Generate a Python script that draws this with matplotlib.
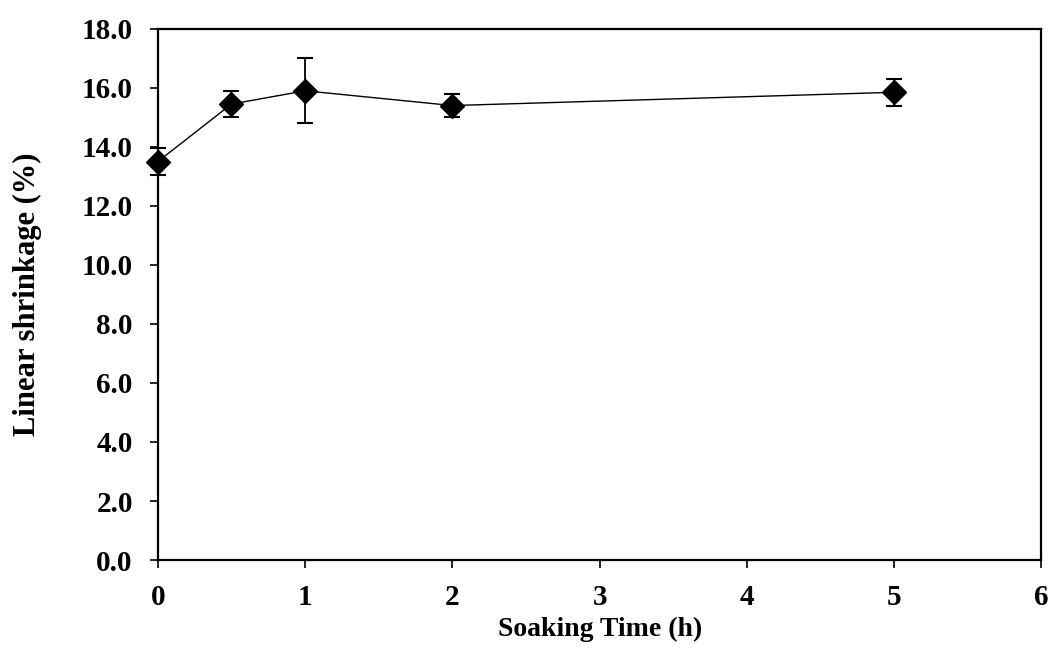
import matplotlib
matplotlib.use("Agg")
import matplotlib.pyplot as plt
from matplotlib.ticker import FormatStrFormatter

soaking_time = [0, 0.5, 1, 2, 5]
shrinkage = [13.5, 15.45, 15.9, 15.4, 15.85]
errors = [0.45, 0.45, 1.1, 0.4, 0.45]
x_ticks = [0, 1, 2, 3, 4, 5, 6]
y_ticks = [0, 2, 4, 6, 8, 10, 12, 14, 16, 18]

plt.rcParams['font.family'] = ['Liberation Serif', 'DejaVu Serif']
plt.rcParams['font.weight'] = 'bold'

fig = plt.figure(figsize=(10.52, 6.55), dpi=100)
ax = fig.add_axes([0.150, 0.145, 0.840, 0.811])

ax.errorbar(soaking_time, shrinkage, yerr=errors, fmt='-D', color='black',
            ecolor='black', elinewidth=1.3, capsize=6, capthick=1.5,
            linewidth=1.0, markersize=12, markerfacecolor='black',
            markeredgecolor='black', clip_on=False, zorder=3)

ax.set_xlim(0, 6)
ax.set_ylim(0, 18)
ax.set_xticks(x_ticks)
ax.set_yticks(y_ticks)
ax.yaxis.set_major_formatter(FormatStrFormatter('%.1f'))
for s in ax.spines.values():
    s.set_linewidth(1.6)
ax.tick_params(direction='out', length=6, width=1.2, labelsize=21)
ax.tick_params(axis='x', pad=11)
ax.tick_params(axis='y', pad=12)
for lab in ax.get_xticklabels() + ax.get_yticklabels():
    lab.set_fontweight('bold')
ax.set_xlabel('Soaking Time (h)', fontsize=20, fontweight='bold')
ax.set_ylabel('Linear shrinkage (%)', fontsize=22, fontweight='bold')
ax.xaxis.set_label_coords(0.5, -0.13)
ax.xaxis.label.set_va('center')
ax.yaxis.set_label_coords(-0.147, 0.5)
ax.yaxis.label.set_va('center')

fig.savefig('out.png', dpi=100)
